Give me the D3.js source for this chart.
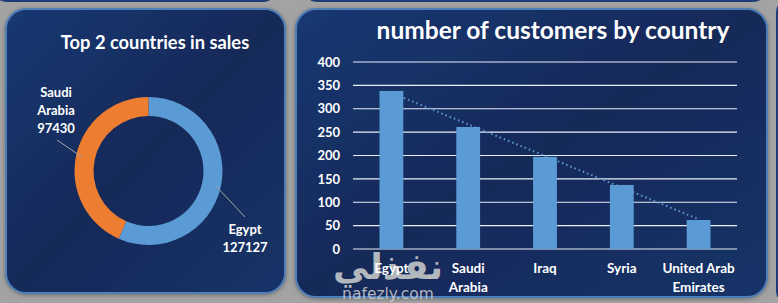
<!DOCTYPE html>
<html><head><meta charset="utf-8">
<script src="https://cdn.jsdelivr.net/npm/d3@7"></script>
<style>
html,body{margin:0;padding:0;background:#a3a3a3;}
svg{display:block;}
</style></head>
<body>
<svg id="c" width="778" height="303"></svg>
<script>
// ---- data ----
const donutLabels = ["Egypt", "Saudi Arabia"];
const donutValues = [127127, 97430];
const barCategories = ["Egypt", "Saudi Arabia", "Iraq", "Syria", "United Arab Emirates"];
const barCategoryLines = [["Egypt"], ["Saudi", "Arabia"], ["Iraq"], ["Syria"], ["United Arab", "Emirates"]];
const barValues = [338, 261, 197, 137, 62];
const yTicks = [0, 50, 100, 150, 200, 250, 300, 350, 400];
const donutTitle = "Top 2 countries in sales";
const barTitle = "number of customers by country";

const svg = d3.select("#c");
const FONT = "Lato, 'Open Sans', sans-serif";

const defs = svg.append("defs");
const g1 = defs.append("linearGradient").attr("id","pg").attr("x1","0").attr("y1","0").attr("x2","1").attr("y2","1");
g1.append("stop").attr("offset","0").attr("stop-color","#1a3872");
g1.append("stop").attr("offset","0.5").attr("stop-color","#132959");
g1.append("stop").attr("offset","1").attr("stop-color","#183368");
const sh = defs.append("filter").attr("id","sh").attr("x","-10%").attr("y","-10%").attr("width","120%").attr("height","120%");
sh.append("feDropShadow").attr("dx",0).attr("dy",1).attr("stdDeviation",2).attr("flood-color","#555").attr("flood-opacity",0.7);

// background hints of neighbouring panels
svg.append("rect").attr("x",-10).attr("y",-40).attr("width",290).attr("height",42).attr("rx",18).attr("fill","#1d3b74");
svg.append("rect").attr("x",300).attr("y",-40).attr("width",470).attr("height",42).attr("rx",18).attr("fill","#1d3b74");
svg.append("rect").attr("x",776).attr("y",0).attr("width",30).attr("height",303).attr("rx",12).attr("fill","#1d3b74");

function panel(x,y,w,h){
  svg.append("rect").attr("x",x).attr("y",y).attr("width",w).attr("height",h).attr("rx",20)
    .attr("fill","url(#pg)").attr("stroke","#4f7fb8").attr("stroke-width",2).attr("filter","url(#sh)");
}
panel(6,9,279,284);
panel(296,9,471,288);

// ---- donut ----
const dg = svg.append("g").attr("transform","translate(148.5,171)");
const pie = d3.pie().sort(null).value(d=>d);
const arc = d3.arc().innerRadius(55).outerRadius(74);
const colors = ["#5b9bd5","#ed7d31"];
const arcs = pie(donutValues);
dg.selectAll("path").data(arcs).join("path").attr("d",arc).attr("fill",(d,i)=>colors[i]);

svg.append("text").attr("x",155).attr("y",49).attr("text-anchor","middle").attr("fill","#fff")
  .attr("font-family",FONT).attr("font-weight","bold").attr("font-size",18.3).text(donutTitle);

// leader lines
const midArc = d3.arc().innerRadius(68).outerRadius(68);
function leader(d, x2, y2){
  const c = midArc.centroid(d);
  dg.append("line").attr("x1",c[0]).attr("y1",c[1]).attr("x2",x2).attr("y2",y2)
    .attr("stroke","#a6a6a6").attr("stroke-width",1);
}
leader(arcs[0], 245-148.5, 217-171);
leader(arcs[1], 57-148.5, 140-171);

function multiText(x, y, lines, lh, size){
  const t = svg.append("text").attr("x",x).attr("y",y).attr("text-anchor","middle").attr("fill","#fff")
    .attr("font-family",FONT).attr("font-weight","bold").attr("font-size",size);
  lines.forEach((l,i)=>t.append("tspan").attr("x",x).attr("dy", i===0?0:lh).text(l));
}
multiText(56, 97, ["Saudi","Arabia", String(donutValues[1])], 18, 13);
multiText(245, 234, [donutLabels[0], String(donutValues[0])], 18, 13);

// ---- bar chart ----
const x = d3.scaleBand().domain(barCategories).range([353,737]).paddingInner(0.69).paddingOuter(0.345);
const y = d3.scaleLinear().domain([0,400]).range([249,62]);

svg.append("g").selectAll("line").data(yTicks).join("line")
  .attr("x1",353).attr("x2",737).attr("y1",d=>y(d)).attr("y2",d=>y(d))
  .attr("stroke","#e8eef8").attr("stroke-width",1.2);

const yAxis = d3.axisLeft(y).tickValues(yTicks).tickSize(0).tickPadding(0);
const ya = svg.append("g").attr("transform","translate(340,0)").call(yAxis);
ya.select(".domain").remove();
ya.selectAll("text").attr("fill","#fff").attr("font-family",FONT).attr("font-weight","bold").attr("font-size",13);

// watermark (behind labels)
svg.append("text").attr("x",388).attr("y",279).attr("text-anchor","middle").attr("fill","#d0d0d0").attr("fill-opacity",0.85)
  .attr("font-family","'DejaVu Sans', sans-serif").attr("font-weight","bold").attr("font-size",36).text("نفذلي");

svg.append("g").selectAll("rect").data(barValues).join("rect")
  .attr("x",(d,i)=>x(barCategories[i])).attr("width",x.bandwidth())
  .attr("y",d=>y(d)).attr("height",d=>y(0)-y(d)).attr("fill","#5b9bd5");

// linear trendline
const n = barValues.length;
const xs = d3.range(1,n+1);
const mx = d3.mean(xs), my = d3.mean(barValues);
const slope = d3.sum(xs.map((xi,i)=>(xi-mx)*(barValues[i]-my))) / d3.sum(xs.map(xi=>(xi-mx)**2));
const icpt = my - slope*mx;
const cx = i => x(barCategories[i]) + x.bandwidth()/2;
svg.append("line").attr("x1",cx(0)).attr("y1",y(icpt+slope*1)).attr("x2",cx(n-1)).attr("y2",y(icpt+slope*n))
  .attr("stroke","#5b9bd5").attr("stroke-width",2).attr("stroke-dasharray","1.5,3");

svg.append("text").attr("x",553).attr("y",39).attr("text-anchor","middle").attr("fill","#fff")
  .attr("font-family",FONT).attr("font-weight","bold").attr("font-size",24.5).text(barTitle);

barCategoryLines.forEach((lines,i)=>{
  multiText(cx(i), 273, lines, 19, 13.5);
});

svg.append("text").attr("x",388).attr("y",299).attr("text-anchor","middle").attr("fill","#d0d0d0").attr("fill-opacity",0.85)
  .attr("font-family","'DejaVu Sans', sans-serif").attr("font-size",15.5).text("nafezly.com");
</script>
</body></html>
